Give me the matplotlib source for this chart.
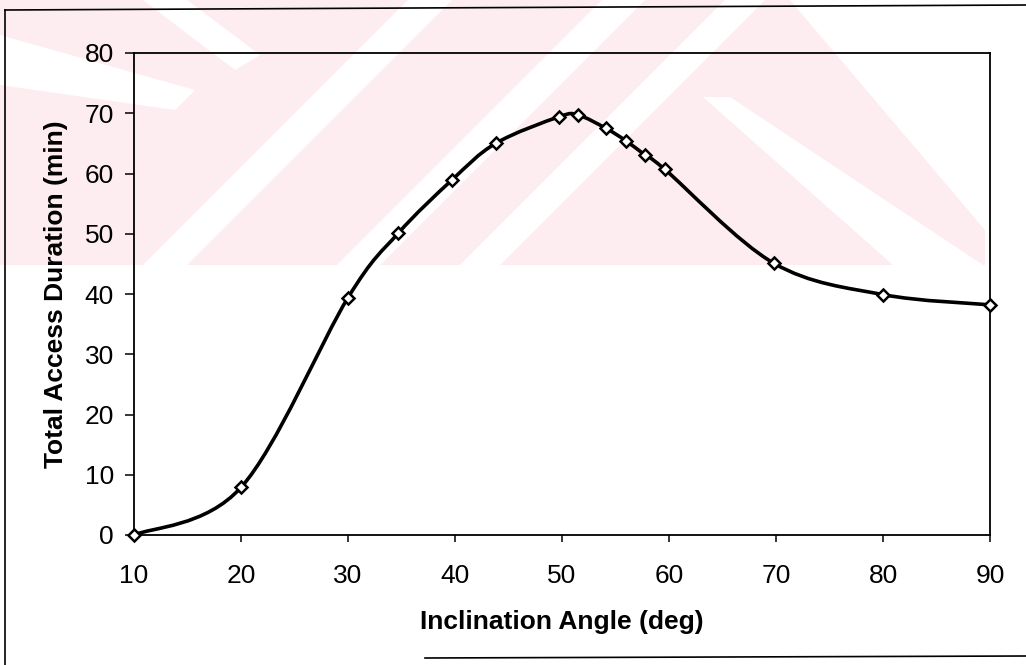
import numpy as np
import matplotlib
matplotlib.use("Agg")
import matplotlib.pyplot as plt
from matplotlib.path import Path
from matplotlib.patches import PathPatch, Polygon, Rectangle
from matplotlib.lines import Line2D

# Data
angle = [10, 20, 30, 34.7, 39.7, 43.8, 49.7, 51.5, 54.1, 56.0, 57.8, 59.6, 69.8, 80.0, 90.0]
duration = [0.0, 7.9, 39.4, 50.1, 58.9, 65.0, 69.4, 69.7, 67.5, 65.4, 63.0, 60.7, 45.1, 39.9, 38.2]

x_ticks = [10, 20, 30, 40, 50, 60, 70, 80, 90]
y_ticks = [0, 10, 20, 30, 40, 50, 60, 70, 80]

W, H = 1026, 665
FONT = "Liberation Sans"


def smooth_path(xs, ys):
    # Excel-style smoothed line: cubic Bezier segments through every point
    p = np.column_stack([xs, ys]).astype(float)
    ext = np.vstack([p[0], p, p[-1]])
    verts = [p[0]]
    codes = [Path.MOVETO]
    for i in range(len(p) - 1):
        c1 = ext[i + 1] + (ext[i + 2] - ext[i]) / 6.0
        c2 = ext[i + 2] - (ext[i + 3] - ext[i + 1]) / 6.0
        verts += [c1, c2, p[i + 1]]
        codes += [Path.CURVE4] * 3
    return Path(verts, codes)


def px(x, y):
    # pixel position (top-left origin) -> figure fraction
    return (x / W, 1 - y / H)


fig = plt.figure(figsize=(W / 100, H / 100), dpi=100)
fig.patch.set_facecolor("white")

# faint pink watermark in the upper band of the scan
pink = "#fdedf0"
fig.patches.append(Rectangle(px(0, 265), 985 / W, 265 / H, transform=fig.transFigure,
                             facecolor=pink, edgecolor="none", zorder=-3))
white_shapes = [
    [(143, 265), (187, 265), (452, 0), (408, 0)],
    [(337, 265), (380, 265), (645, 0), (602, 0)],
    [(460, 265), (500, 265), (765, 0), (725, 0)],
    [(143, 0), (187, 0), (260, 55), (235, 70)],
    [(0, 35), (0, 85), (175, 110), (195, 90)],
    [(703, 97), (730, 97), (983, 265), (893, 265)],
    [(790, 0), (985, 0), (985, 230)],
]
for shp in white_shapes:
    fig.patches.append(Polygon([px(*v) for v in shp], closed=True, transform=fig.transFigure,
                               facecolor="white", edgecolor="none", zorder=-2))

# outer chart frame (partly visible in the scan)
for seg in [[(5, 10), (5, 665)], [(5, 10), (1026, 5)], [(425, 658), (1026, 656)]]:
    (x0, y0), (x1, y1) = px(*seg[0]), px(*seg[1])
    fig.add_artist(Line2D([x0, x1], [y0, y1], transform=fig.transFigure, color="black", lw=1.2))

ax = fig.add_axes([134 / W, 1 - 535 / H, (990 - 134) / W, (535 - 53) / H])
ax.patch.set_alpha(0)

ax.add_patch(PathPatch(smooth_path(angle, duration), facecolor="none", edgecolor="black",
                       lw=2.6, capstyle="round", joinstyle="round", zorder=3))
ax.plot(angle, duration, linestyle="none", marker="D", markersize=6.5,
        markerfacecolor="white", markeredgecolor="black", markeredgewidth=1.8, zorder=4,
        clip_on=False)

ax.set_xlim(10, 90)
ax.set_ylim(0, 80)
ax.set_xticks(x_ticks)
ax.set_yticks(y_ticks)
ax.tick_params(axis="y", direction="out", length=6.5, width=1.1, pad=8, labelsize=19)
ax.tick_params(axis="x", direction="out", length=5, width=1.1, pad=16, labelsize=19)
for lab in ax.get_xticklabels() + ax.get_yticklabels():
    lab.set_fontfamily(FONT)

for sp in ax.spines.values():
    sp.set_linewidth(1.3)
    sp.set_color("black")

ax.set_xlabel("Inclination Angle (deg)", fontfamily=FONT, fontweight="bold", fontsize=19,
              labelpad=16)
ax.set_ylabel("Total Access Duration (min)", fontfamily=FONT, fontweight="bold", fontsize=19,
              labelpad=12)

fig.savefig("out.png", dpi=100)
